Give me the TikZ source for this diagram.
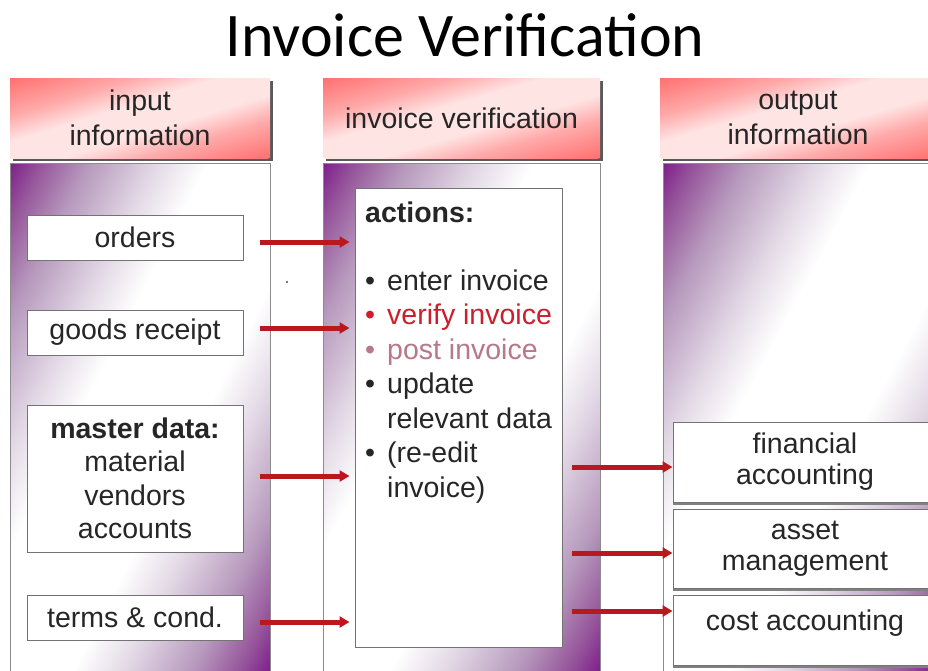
\documentclass[tikz,border=0pt]{standalone}
\usepackage{fontspec}
\setmainfont{Liberation Sans}
\newfontfamily\titlefont{Carlito}
\usetikzlibrary{arrows.meta,shadows}

\definecolor{purp}{RGB}{125,30,138}
\definecolor{purpmid}{RGB}{150,85,155}
\definecolor{lav}{RGB}{182,152,188}
\definecolor{lightlav}{RGB}{226,216,229}
\definecolor{pinkc}{RGB}{255,112,112}
\definecolor{pinkmid}{RGB}{255,170,170}
\definecolor{palepink}{RGB}{255,228,228}
\definecolor{arrowred}{RGB}{185,25,30}
\definecolor{txt}{RGB}{38,38,38}
\definecolor{verifyred}{RGB}{205,30,45}
\definecolor{postpink}{RGB}{185,120,135}
\definecolor{dotblue}{RGB}{60,60,170}

\pgfdeclarehorizontalshading{panelshade}{100bp}{color(0bp)=(purp); color(25bp)=(purp); color(28bp)=(purpmid); color(32.5bp)=(lav); color(39bp)=(lightlav); color(44bp)=(white); color(56bp)=(white); color(61bp)=(lightlav); color(67.5bp)=(lav); color(72bp)=(purpmid); color(75bp)=(purp); color(100bp)=(purp)}
\pgfdeclarehorizontalshading{headshade}{100bp}{color(0bp)=(pinkc); color(25bp)=(pinkc); color(37bp)=(pinkmid); color(45bp)=(palepink); color(55bp)=(palepink); color(63bp)=(pinkmid); color(75bp)=(pinkc); color(100bp)=(pinkc)}

\newcommand\myfont{\fontsize{28.5}{34.5}\selectfont}
\newcommand\myfontb{\fontsize{28.5}{33.5}\selectfont}
\newcommand\myfontc{\fontsize{28.5}{31}\selectfont}

% diagonal gradient fill of a rectangle: isolines parallel to its anti-diagonal
\newcommand\diagfill[5]{%
  \pgfmathsetmacro\dgw{(#3-#1)/100}%
  \pgfmathsetmacro\dgh{(#4-#2)/100}%
  \pgfmathsetmacro\dgtx{(#1+#3)/2-(#3-#1)}%
  \pgfmathsetmacro\dgty{-(#2+#4)/2}%
  \begin{scope}
    \clip (#1,#2) rectangle (#3,#4);
    \begin{scope}[transform canvas={cm={\dgw,-\dgh,\dgw,\dgh,(\dgtx pt,\dgty pt)}}]
      \shade[shading=#5] (0pt,0pt) rectangle (100pt,100pt);
    \end{scope}
  \end{scope}}

\tikzset{
  panelborder/.style={draw=black!45, line width=0.8pt, inner sep=0pt},
  headtext/.style={text=txt, align=center, font=\myfont, inner sep=0pt},
  whitebox/.style={draw=black!55, fill=white, line width=1pt, text=txt, align=center, inner sep=0pt, font=\myfont},
  outbox/.style={whitebox, font=\myfontc,
    drop shadow={shadow xshift=0pt, shadow yshift=-3pt, fill=black!50, opacity=1}},
  arr/.style={draw=arrowred, line width=5pt, -{Triangle[length=10pt,width=11pt]}},
  plain/.style={text=txt, font=\myfont, inner sep=0pt},
  hshadow/.style={fill=black!65}
}

\begin{document}
\begin{tikzpicture}[x=1pt,y=-1pt]
\useasboundingbox (0,0) rectangle (928,670);
\clip (0,0) rectangle (928,670);
\fill[white] (0,0) rectangle (928,670);

% title
\node[anchor=base, font=\titlefont\fontsize{62}{70}\selectfont, text=black, inner sep=0pt] (title) at (465,56) {Invoice Verification};

% panels
\diagfill{10}{163}{270}{672}{panelshade}
\diagfill{323}{163}{600}{672}{panelshade}
\diagfill{663}{163}{936}{672}{panelshade}
\node[panelborder, minimum width=260pt, minimum height=509pt] (pin) at (140,417.5) {};
\node[panelborder, minimum width=277pt, minimum height=509pt] (pmid) at (461.5,417.5) {};
\node[panelborder, minimum width=273pt, minimum height=509pt] (pout) at (799.5,417.5) {};

% headers
\fill[hshadow] (12.5,80.5) rectangle (272.5,160.5);
\fill[hshadow] (325.5,80.5) rectangle (602.5,160.5);
\fill[hshadow] (662.5,80.5) rectangle (938.5,160.5);
\diagfill{10}{78}{270}{158}{headshade}
\diagfill{323}{78}{600}{158}{headshade}
\diagfill{660}{78}{936}{158}{headshade}
\node[headtext, minimum width=260pt, minimum height=80pt] (hin) at (140,118) {input\\information};
\node[headtext, minimum width=277pt, minimum height=80pt] (hmid) at (461.5,118) {invoice verification};
\node[headtext, minimum width=276pt, minimum height=80pt] (hout) at (798,118) {output\\information};

% input boxes
\node[whitebox, minimum width=216pt, minimum height=45pt] (orders) at (135,237.5) {orders};
\node[whitebox, minimum width=216pt, minimum height=45pt] (goods) at (135,332.5) {goods receipt};
\node[whitebox, font=\myfontb, minimum width=216pt, minimum height=147pt] (master) at (135,478.5) {\textbf{master data:}\\material\\vendors\\accounts};
\node[whitebox, minimum width=216pt, minimum height=45pt] (terms) at (135,617.5) {terms \& cond.};

% actions box
\node[whitebox, minimum width=207pt, minimum height=459pt] (actions) at (458.5,417.5) {};
\node[plain, anchor=base west] (acttext) at (365,222) {%
\begin{tabular}[t]{@{}l@{\hspace{12pt}}l@{}}
\multicolumn{2}{@{}l@{}}{\textbf{actions:}}\\[33.5pt]
•&enter invoice\\
\textcolor{verifyred}{•}&\textcolor{verifyred}{verify invoice}\\
\textcolor{postpink}{•}&\textcolor{postpink}{post invoice}\\
•&update\\
&relevant data\\
•&(re-edit\\
&invoice)
\end{tabular}};

% output boxes
\node[outbox, minimum width=264pt, minimum height=80pt] (fin) at (805,462) {financial\\accounting};
\node[outbox, minimum width=264pt, minimum height=79pt] (asset) at (805,548.5) {asset\\management};
\node[outbox, minimum width=264pt, minimum height=70pt] (cost) at (805,630) {};
\node[plain, anchor=base] (costtxt) at (805,630) {cost accounting};

% stray dot
\fill[dotblue] (287,282) circle (1.2pt);

% arrows in
\coordinate (s1) at (260,242);
\coordinate (s2) at (260,328);
\coordinate (s3) at (260,476);
\coordinate (s4) at (260,622);
\draw[arr, shorten >=5pt] (s1) -- (s1 -| actions.west);
\draw[arr, shorten >=5pt] (s2) -- (s2 -| actions.west);
\draw[arr, shorten >=5pt] (s3) -- (s3 -| actions.west);
\draw[arr, shorten >=5pt] (s4) -- (s4 -| actions.west);

% arrows out
\coordinate (r1) at (572,467);
\coordinate (r2) at (572,553);
\coordinate (r3) at (572,611);
\draw[arr] (r1) -- (r1 -| fin.west);
\draw[arr] (r2) -- (r2 -| asset.west);
\draw[arr] (r3) -- (r3 -| cost.west);
\end{tikzpicture}
\end{document}
